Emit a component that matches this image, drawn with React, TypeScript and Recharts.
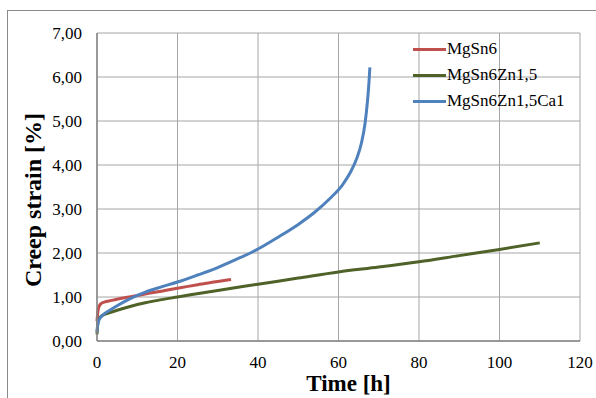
import React from 'react';
import { LineChart, Line, XAxis, YAxis, CartesianGrid } from 'recharts';

const seriesNames = ['MgSn6', 'MgSn6Zn1,5', 'MgSn6Zn1,5Ca1'];
const seriesColors = ['#C0504D', '#4F6228', '#4F81BD'];

const mgSn6Time = [0, 0.2, 0.5, 1, 2, 3, 5, 8, 12, 16, 20, 25, 30, 33.3];
const mgSn6Strain = [0.45, 0.65, 0.78, 0.85, 0.89, 0.91, 0.95, 1.0, 1.07, 1.13, 1.2, 1.28, 1.35, 1.4];

const znTime = [0, 0.2, 0.5, 1, 2, 3, 5, 8, 12, 16, 20, 30, 40, 50, 60, 70, 80, 90, 100, 110];
const znStrain = [0.15, 0.4, 0.5, 0.56, 0.61, 0.64, 0.7, 0.78, 0.87, 0.94, 1.0, 1.15, 1.29, 1.43, 1.57, 1.68, 1.8, 1.94, 2.08, 2.23];

const caTime = [0, 0.2, 0.5, 1, 2, 3, 5, 8, 12, 16, 20, 25, 30, 35, 40, 45, 50, 54, 58, 61, 63, 64.5, 65.7, 66.6, 67.2, 67.55, 67.8];
const caStrain = [0.2, 0.38, 0.48, 0.55, 0.63, 0.69, 0.8, 0.95, 1.11, 1.23, 1.34, 1.5, 1.67, 1.87, 2.09, 2.36, 2.65, 2.92, 3.25, 3.55, 3.84, 4.14, 4.5, 4.95, 5.45, 5.85, 6.22];

const xTicks = [0, 20, 40, 60, 80, 100, 120];
const yTicks = [0, 1, 2, 3, 4, 5, 6, 7];

const zip = (t: number[], v: number[]) => t.map((x, i) => ({ t: x, v: v[i] }));
const seriesData = [zip(mgSn6Time, mgSn6Strain), zip(znTime, znStrain), zip(caTime, caStrain)];

const FONT = 'Liberation Serif, Tinos, "Times New Roman", serif';

const YLabel = (props: any) => {
  const vb = props.viewBox || {};
  const cx = vb.x + 33;
  const cy = vb.y + vb.height / 2 + 13;
  return (
    <text x={cx} y={cy} transform={`rotate(-90 ${cx} ${cy})`} textAnchor="middle" dy="0.35em"
      style={{ fontFamily: FONT }} fontWeight="bold" fontSize={24} fill="#000">
      Creep strain [%]
    </text>
  );
};

const XLabel = (props: any) => {
  const vb = props.viewBox || {};
  const cx = vb.x + vb.width / 2 + 10;
  const cy = vb.y + 42;
  return (
    <text x={cx} y={cy} textAnchor="middle" dy="0.35em"
      style={{ fontFamily: FONT }} fontWeight="bold" fontSize={23} fill="#000">
      Time [h]
    </text>
  );
};

const Tick = (props: any) => {
  const { x, y, payload, anchor, dy, fmt } = props;
  return (
    <text x={x} y={y} dy={dy} textAnchor={anchor} style={{ fontFamily: FONT }} fontSize={17} fill="#000">
      {fmt ? fmt(payload.value) : payload.value}
    </text>
  );
};

const fmtY = (v: number) => v.toFixed(2).replace('.', ',');

export default function App() {
  return (
    <div style={{ position: 'absolute', left: 0, top: 0, width: 596, height: 398, background: '#fff', fontFamily: FONT }}>
      <div style={{ position: 'absolute', left: 7, top: 10, width: 588, height: 387, borderTop: '1px solid #8a8a8a', borderLeft: '1px solid #8a8a8a' }} />
      <LineChart width={596} height={398} margin={{ top: 33, right: 16, bottom: 0, left: 0 }}>
        <CartesianGrid stroke="#a6a6a6" strokeWidth={1} />
        <XAxis dataKey="t" type="number" domain={[0, 120]} ticks={xTicks} interval={0} height={57}
          tickSize={0} tickMargin={15} axisLine={{ stroke: '#868686', strokeWidth: 1.5 }}
          tick={<Tick anchor="middle" dy="0.71em" />} label={<XLabel />} allowDuplicatedCategory={false} />
        <YAxis type="number" domain={[0, 7]} ticks={yTicks} interval={0} width={97}
          tickSize={0} tickMargin={15} axisLine={{ stroke: '#868686', strokeWidth: 1.5 }}
          tick={<Tick anchor="end" dy="0.35em" fmt={fmtY} />} label={<YLabel />} />
        {seriesData.map((d, i) => (
          <Line key={seriesNames[i]} data={d} dataKey="v" name={seriesNames[i]} type="monotone"
            stroke={seriesColors[i]} strokeWidth={3} dot={false} isAnimationActive={false} />
        ))}
      </LineChart>
      <div style={{ position: 'absolute', left: 413, top: 36, fontFamily: FONT, fontSize: 17, color: '#000' }}>
        {seriesNames.map((n, i) => (
          <div key={n} style={{ display: 'flex', alignItems: 'center', height: 26 }}>
            <div style={{ width: 33, height: 3, background: seriesColors[i], marginRight: 1 }} />
            <span style={{ lineHeight: '26px' }}>{n}</span>
          </div>
        ))}
      </div>
    </div>
  );
}
